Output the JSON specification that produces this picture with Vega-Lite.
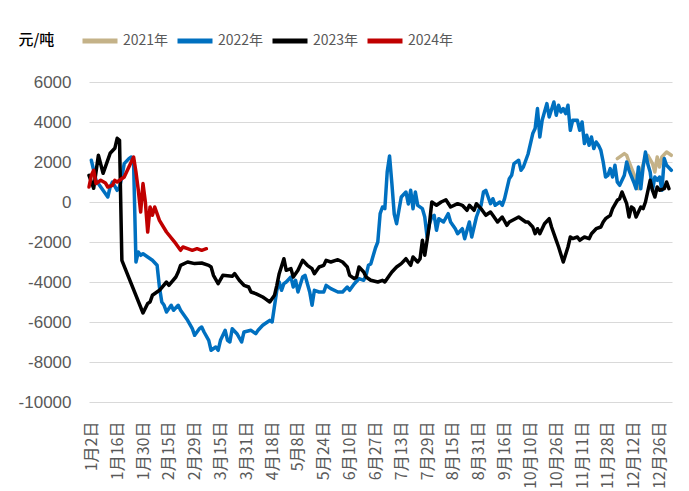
{
"$schema": "https://vega.github.io/schema/vega-lite/v6.json",
"width": 583, "height": 320,
"autosize": {"type": "none"},
"padding": {"left": 89, "top": 82, "right": 17, "bottom": 89},
"background": "white",
"config": {"view": {"stroke": null}},
"data": {"values": [
{"s":"2021年","d":225,"v":2170},{"s":"2021年","d":228,"v":2420},{"s":"2021年","d":229,"v":2335},{"s":"2021年","d":230,"v":2000},{"s":"2021年","d":232,"v":1420},{"s":"2021年","d":234,"v":665},{"s":"2021年","d":235,"v":1500},{"s":"2021年","d":237,"v":2250},{"s":"2021年","d":238,"v":2335},{"s":"2021年","d":240,"v":1920},{"s":"2021年","d":241,"v":1500},{"s":"2021年","d":242,"v":2250},{"s":"2021年","d":243,"v":1750},{"s":"2021年","d":244,"v":2250},{"s":"2021年","d":246,"v":2500},{"s":"2021年","d":248,"v":2335},
{"s":"2022年","d":1,"v":2085},{"s":"2022年","d":3,"v":1085},{"s":"2022年","d":5,"v":750},{"s":"2022年","d":8,"v":250},{"s":"2022年","d":9,"v":750},{"s":"2022年","d":10,"v":1000},{"s":"2022年","d":12,"v":585},{"s":"2022年","d":13,"v":750},{"s":"2022年","d":14,"v":1250},{"s":"2022年","d":15,"v":1920},{"s":"2022年","d":17,"v":2170},{"s":"2022年","d":18,"v":2250},{"s":"2022年","d":19,"v":1920},{"s":"2022年","d":20,"v":-3000},{"s":"2022年","d":21,"v":-2500},{"s":"2022年","d":22,"v":-2665},{"s":"2022年","d":23,"v":-2585},{"s":"2022年","d":25,"v":-2750},{"s":"2022年","d":27,"v":-2915},{"s":"2022年","d":29,"v":-3165},{"s":"2022年","d":30,"v":-4250},{"s":"2022年","d":31,"v":-5000},{"s":"2022年","d":32,"v":-5165},{"s":"2022年","d":33,"v":-5500},{"s":"2022年","d":35,"v":-5165},{"s":"2022年","d":36,"v":-5415},{"s":"2022年","d":38,"v":-5165},{"s":"2022年","d":39,"v":-5415},{"s":"2022年","d":42,"v":-5915},{"s":"2022年","d":44,"v":-6335},{"s":"2022年","d":45,"v":-6665},{"s":"2022年","d":47,"v":-6335},{"s":"2022年","d":48,"v":-6250},{"s":"2022年","d":49,"v":-6500},{"s":"2022年","d":51,"v":-6915},{"s":"2022年","d":52,"v":-7415},{"s":"2022年","d":54,"v":-7250},{"s":"2022年","d":55,"v":-7415},{"s":"2022年","d":56,"v":-6915},{"s":"2022年","d":58,"v":-6415},{"s":"2022年","d":59,"v":-6915},{"s":"2022年","d":60,"v":-7000},{"s":"2022年","d":61,"v":-6335},{"s":"2022年","d":63,"v":-6585},{"s":"2022年","d":65,"v":-7000},{"s":"2022年","d":66,"v":-6500},{"s":"2022年","d":69,"v":-6415},{"s":"2022年","d":71,"v":-6585},{"s":"2022年","d":72,"v":-6415},{"s":"2022年","d":74,"v":-6165},{"s":"2022年","d":76,"v":-6000},{"s":"2022年","d":77,"v":-5915},{"s":"2022年","d":78,"v":-6000},{"s":"2022年","d":80,"v":-4415},{"s":"2022年","d":81,"v":-4000},{"s":"2022年","d":82,"v":-4415},{"s":"2022年","d":83,"v":-4085},{"s":"2022年","d":84,"v":-4000},{"s":"2022年","d":86,"v":-3750},{"s":"2022年","d":87,"v":-4250},{"s":"2022年","d":88,"v":-3915},{"s":"2022年","d":89,"v":-4500},{"s":"2022年","d":91,"v":-3750},{"s":"2022年","d":92,"v":-3665},{"s":"2022年","d":94,"v":-4500},{"s":"2022年","d":95,"v":-5165},{"s":"2022年","d":96,"v":-4415},{"s":"2022年","d":98,"v":-4500},{"s":"2022年","d":100,"v":-4500},{"s":"2022年","d":101,"v":-4165},{"s":"2022年","d":103,"v":-4335},{"s":"2022年","d":106,"v":-4500},{"s":"2022年","d":108,"v":-4500},{"s":"2022年","d":110,"v":-4250},{"s":"2022年","d":111,"v":-4415},{"s":"2022年","d":113,"v":-4085},{"s":"2022年","d":115,"v":-3835},{"s":"2022年","d":117,"v":-3915},{"s":"2022年","d":118,"v":-3665},{"s":"2022年","d":119,"v":-3165},{"s":"2022年","d":120,"v":-3100},{"s":"2022年","d":122,"v":-2300},{"s":"2022年","d":123,"v":-2000},{"s":"2022年","d":124,"v":-585},{"s":"2022年","d":125,"v":-250},{"s":"2022年","d":126,"v":-335},{"s":"2022年","d":127,"v":1500},{"s":"2022年","d":128,"v":2300},{"s":"2022年","d":129,"v":920},{"s":"2022年","d":130,"v":-600},{"s":"2022年","d":131,"v":-1085},{"s":"2022年","d":132,"v":-415},{"s":"2022年","d":133,"v":250},{"s":"2022年","d":135,"v":500},{"s":"2022年","d":136,"v":-100},{"s":"2022年","d":137,"v":585},{"s":"2022年","d":138,"v":-335},{"s":"2022年","d":139,"v":500},{"s":"2022年","d":140,"v":-165},{"s":"2022年","d":142,"v":-335},{"s":"2022年","d":143,"v":-750},{"s":"2022年","d":144,"v":-1750},{"s":"2022年","d":145,"v":-1085},{"s":"2022年","d":146,"v":-750},{"s":"2022年","d":147,"v":-665},{"s":"2022年","d":148,"v":-1415},{"s":"2022年","d":149,"v":-835},{"s":"2022年","d":151,"v":-1000},{"s":"2022年","d":153,"v":-585},{"s":"2022年","d":154,"v":-1000},{"s":"2022年","d":156,"v":-1335},{"s":"2022年","d":157,"v":-1585},{"s":"2022年","d":159,"v":-1335},{"s":"2022年","d":160,"v":-1835},{"s":"2022年","d":161,"v":-1415},{"s":"2022年","d":162,"v":-1000},{"s":"2022年","d":163,"v":-1750},{"s":"2022年","d":165,"v":-750},{"s":"2022年","d":166,"v":-415},{"s":"2022年","d":167,"v":-165},{"s":"2022年","d":168,"v":500},{"s":"2022年","d":169,"v":585},{"s":"2022年","d":170,"v":250},{"s":"2022年","d":171,"v":-85},{"s":"2022年","d":172,"v":165},{"s":"2022年","d":173,"v":-165},{"s":"2022年","d":175,"v":0},{"s":"2022年","d":176,"v":-165},{"s":"2022年","d":177,"v":165},{"s":"2022年","d":179,"v":1165},{"s":"2022年","d":180,"v":1335},{"s":"2022年","d":181,"v":1920},{"s":"2022年","d":183,"v":2085},{"s":"2022年","d":184,"v":1585},{"s":"2022年","d":185,"v":1750},{"s":"2022年","d":187,"v":2400},{"s":"2022年","d":189,"v":3420},{"s":"2022年","d":190,"v":3670},{"s":"2022年","d":191,"v":4670},{"s":"2022年","d":192,"v":3250},{"s":"2022年","d":193,"v":4085},{"s":"2022年","d":195,"v":4920},{"s":"2022年","d":196,"v":4250},{"s":"2022年","d":198,"v":5000},{"s":"2022年","d":199,"v":4335},{"s":"2022年","d":200,"v":4835},{"s":"2022年","d":201,"v":4500},{"s":"2022年","d":202,"v":4670},{"s":"2022年","d":203,"v":4420},{"s":"2022年","d":204,"v":4835},{"s":"2022年","d":205,"v":3585},{"s":"2022年","d":206,"v":4085},{"s":"2022年","d":208,"v":4085},{"s":"2022年","d":209,"v":3585},{"s":"2022年","d":210,"v":4000},{"s":"2022年","d":211,"v":2920},{"s":"2022年","d":212,"v":3335},{"s":"2022年","d":213,"v":2835},{"s":"2022年","d":214,"v":3250},{"s":"2022年","d":215,"v":2670},{"s":"2022年","d":216,"v":3000},{"s":"2022年","d":217,"v":2835},{"s":"2022年","d":218,"v":2585},{"s":"2022年","d":219,"v":2000},{"s":"2022年","d":220,"v":1250},{"s":"2022年","d":221,"v":1335},{"s":"2022年","d":222,"v":1670},{"s":"2022年","d":223,"v":1250},{"s":"2022年","d":224,"v":1835},{"s":"2022年","d":225,"v":1000},{"s":"2022年","d":226,"v":835},{"s":"2022年","d":228,"v":1335},{"s":"2022年","d":229,"v":2000},{"s":"2022年","d":230,"v":1585},{"s":"2022年","d":232,"v":1000},{"s":"2022年","d":233,"v":665},{"s":"2022年","d":234,"v":1750},{"s":"2022年","d":235,"v":665},{"s":"2022年","d":236,"v":1750},{"s":"2022年","d":237,"v":2500},{"s":"2022年","d":238,"v":1900},{"s":"2022年","d":239,"v":1500},{"s":"2022年","d":240,"v":585},{"s":"2022年","d":241,"v":1250},{"s":"2022年","d":242,"v":1085},{"s":"2022年","d":243,"v":1250},{"s":"2022年","d":244,"v":585},{"s":"2022年","d":245,"v":2170},{"s":"2022年","d":246,"v":1835},{"s":"2022年","d":248,"v":1585},
{"s":"2023年","d":0,"v":1335},{"s":"2023年","d":2,"v":685},{"s":"2023年","d":4,"v":2335},{"s":"2023年","d":6,"v":1435},{"s":"2023年","d":9,"v":2435},{"s":"2023年","d":11,"v":2685},{"s":"2023年","d":12,"v":3185},{"s":"2023年","d":13,"v":3085},{"s":"2023年","d":14,"v":-2915},{"s":"2023年","d":23,"v":-5550},{"s":"2023年","d":25,"v":-5070},{"s":"2023年","d":26,"v":-5000},{"s":"2023年","d":27,"v":-4665},{"s":"2023年","d":30,"v":-4415},{"s":"2023年","d":33,"v":-4000},{"s":"2023年","d":34,"v":-4165},{"s":"2023年","d":37,"v":-3750},{"s":"2023年","d":38,"v":-3500},{"s":"2023年","d":39,"v":-3165},{"s":"2023年","d":42,"v":-3000},{"s":"2023年","d":45,"v":-3080},{"s":"2023年","d":48,"v":-3050},{"s":"2023年","d":51,"v":-3165},{"s":"2023年","d":52,"v":-3250},{"s":"2023年","d":53,"v":-3665},{"s":"2023年","d":55,"v":-4085},{"s":"2023年","d":57,"v":-3665},{"s":"2023年","d":61,"v":-3715},{"s":"2023年","d":62,"v":-3580},{"s":"2023年","d":64,"v":-3915},{"s":"2023年","d":66,"v":-4165},{"s":"2023年","d":68,"v":-4250},{"s":"2023年","d":69,"v":-4500},{"s":"2023年","d":71,"v":-4580},{"s":"2023年","d":74,"v":-4750},{"s":"2023年","d":75,"v":-4830},{"s":"2023年","d":77,"v":-5000},{"s":"2023年","d":79,"v":-4665},{"s":"2023年","d":80,"v":-4165},{"s":"2023年","d":81,"v":-3585},{"s":"2023年","d":83,"v":-2835},{"s":"2023年","d":84,"v":-3415},{"s":"2023年","d":86,"v":-3330},{"s":"2023年","d":87,"v":-3750},{"s":"2023年","d":89,"v":-3415},{"s":"2023年","d":91,"v":-2915},{"s":"2023年","d":93,"v":-3165},{"s":"2023年","d":95,"v":-3335},{"s":"2023年","d":96,"v":-3585},{"s":"2023年","d":98,"v":-3250},{"s":"2023年","d":100,"v":-3165},{"s":"2023年","d":101,"v":-2915},{"s":"2023年","d":103,"v":-3000},{"s":"2023年","d":106,"v":-2885},{"s":"2023年","d":108,"v":-3000},{"s":"2023年","d":110,"v":-3250},{"s":"2023年","d":111,"v":-3665},{"s":"2023年","d":113,"v":-3835},{"s":"2023年","d":114,"v":-3750},{"s":"2023年","d":115,"v":-3250},{"s":"2023年","d":117,"v":-3500},{"s":"2023年","d":118,"v":-3750},{"s":"2023年","d":120,"v":-3915},{"s":"2023年","d":123,"v":-4000},{"s":"2023年","d":125,"v":-3915},{"s":"2023年","d":126,"v":-4000},{"s":"2023年","d":128,"v":-3665},{"s":"2023年","d":129,"v":-3500},{"s":"2023年","d":131,"v":-3250},{"s":"2023年","d":133,"v":-3080},{"s":"2023年","d":135,"v":-2835},{"s":"2023年","d":137,"v":-3165},{"s":"2023年","d":138,"v":-2750},{"s":"2023年","d":140,"v":-3000},{"s":"2023年","d":141,"v":-2835},{"s":"2023年","d":142,"v":-1915},{"s":"2023年","d":143,"v":-2665},{"s":"2023年","d":144,"v":-1915},{"s":"2023年","d":145,"v":-1085},{"s":"2023年","d":146,"v":0},{"s":"2023年","d":148,"v":-165},{"s":"2023年","d":150,"v":0},{"s":"2023年","d":152,"v":115},{"s":"2023年","d":154,"v":-250},{"s":"2023年","d":157,"v":-85},{"s":"2023年","d":159,"v":-165},{"s":"2023年","d":161,"v":-415},{"s":"2023年","d":162,"v":-165},{"s":"2023年","d":164,"v":-415},{"s":"2023年","d":165,"v":-85},{"s":"2023年","d":167,"v":-335},{"s":"2023年","d":169,"v":-665},{"s":"2023年","d":171,"v":-500},{"s":"2023年","d":172,"v":-665},{"s":"2023年","d":174,"v":-1000},{"s":"2023年","d":176,"v":-750},{"s":"2023年","d":178,"v":-1165},{"s":"2023年","d":179,"v":-1000},{"s":"2023年","d":183,"v":-750},{"s":"2023年","d":186,"v":-1000},{"s":"2023年","d":187,"v":-1000},{"s":"2023年","d":189,"v":-1250},{"s":"2023年","d":190,"v":-1585},{"s":"2023年","d":191,"v":-1335},{"s":"2023年","d":192,"v":-1585},{"s":"2023年","d":194,"v":-1085},{"s":"2023年","d":196,"v":-835},{"s":"2023年","d":197,"v":-1250},{"s":"2023年","d":199,"v":-1915},{"s":"2023年","d":200,"v":-2250},{"s":"2023年","d":202,"v":-3000},{"s":"2023年","d":204,"v":-2250},{"s":"2023年","d":205,"v":-1750},{"s":"2023年","d":206,"v":-1830},{"s":"2023年","d":208,"v":-1750},{"s":"2023年","d":209,"v":-1915},{"s":"2023年","d":211,"v":-1750},{"s":"2023年","d":213,"v":-1835},{"s":"2023年","d":214,"v":-1585},{"s":"2023年","d":216,"v":-1335},{"s":"2023年","d":218,"v":-1250},{"s":"2023年","d":219,"v":-1000},{"s":"2023年","d":220,"v":-835},{"s":"2023年","d":222,"v":-665},{"s":"2023年","d":223,"v":-335},{"s":"2023年","d":225,"v":85},{"s":"2023年","d":226,"v":165},{"s":"2023年","d":227,"v":500},{"s":"2023年","d":229,"v":-85},{"s":"2023年","d":230,"v":-750},{"s":"2023年","d":231,"v":-250},{"s":"2023年","d":232,"v":-335},{"s":"2023年","d":233,"v":-750},{"s":"2023年","d":235,"v":-250},{"s":"2023年","d":236,"v":-335},{"s":"2023年","d":237,"v":0},{"s":"2023年","d":239,"v":1085},{"s":"2023年","d":240,"v":585},{"s":"2023年","d":241,"v":250},{"s":"2023年","d":242,"v":750},{"s":"2023年","d":243,"v":585},{"s":"2023年","d":245,"v":665},{"s":"2023年","d":246,"v":1000},{"s":"2023年","d":247,"v":665},
{"s":"2024年","d":0,"v":750},{"s":"2024年","d":1,"v":1335},{"s":"2024年","d":2,"v":1585},{"s":"2024年","d":3,"v":920},{"s":"2024年","d":5,"v":1085},{"s":"2024年","d":7,"v":950},{"s":"2024年","d":8,"v":750},{"s":"2024年","d":10,"v":835},{"s":"2024年","d":11,"v":1085},{"s":"2024年","d":12,"v":1000},{"s":"2024年","d":15,"v":1250},{"s":"2024年","d":16,"v":1500},{"s":"2024年","d":17,"v":1750},{"s":"2024年","d":19,"v":2250},{"s":"2024年","d":20,"v":1500},{"s":"2024年","d":21,"v":585},{"s":"2024年","d":22,"v":-500},{"s":"2024年","d":23,"v":920},{"s":"2024年","d":24,"v":0},{"s":"2024年","d":25,"v":-1500},{"s":"2024年","d":26,"v":-250},{"s":"2024年","d":27,"v":-665},{"s":"2024年","d":28,"v":-250},{"s":"2024年","d":30,"v":-915},{"s":"2024年","d":33,"v":-1500},{"s":"2024年","d":37,"v":-2085},{"s":"2024年","d":39,"v":-2415},{"s":"2024年","d":40,"v":-2250},{"s":"2024年","d":42,"v":-2335},{"s":"2024年","d":44,"v":-2415},{"s":"2024年","d":46,"v":-2335},{"s":"2024年","d":48,"v":-2415},{"s":"2024年","d":50,"v":-2335}
]},
"mark": {"type": "line", "strokeWidth": 3.5, "strokeJoin": "round", "strokeCap": "round"},
"encoding": {
"x": {"field": "d", "type": "quantitative", "scale": {"domain": [0, 248.3], "nice": false, "zero": false},
 "axis": {"values": [1,12,23,34,45,56,67,78,89,100,111,122,133,144,155,166,177,188,199,210,221,232,243],
  "labelExpr": "['1月2日','1月16日','1月30日','2月15日','2月29日','3月15日','3月31日','4月18日','5月8日','5月24日','6月10日','6月27日','7月13日','7月29日','8月15日','8月31日','9月16日','10月10日','10月26日','11月11日','11月28日','12月12日','12月26日'][round((datum.value-1)/11)]",
  "labelAngle": -90, "grid": false, "ticks": false, "domain": false, "labelPadding": 19, "labelFont": "Noto Sans CJK SC", "labelFontSize": 16, "labelColor": "#595959", "title": null, "labelOverlap": false, "labelFlush": false, "labelBound": false}},
"y": {"field": "v", "type": "quantitative", "scale": {"domain": [-10000, 6000], "nice": false},
 "axis": {"values": [-10000,-8000,-6000,-4000,-2000,0,2000,4000,6000], "labelExpr": "'' + datum.value", "grid": true, "gridColor": "#D9D9D9", "gridWidth": 1, "domain": false, "ticks": false, "labelPadding": 18, "labelFont": "Liberation Sans", "labelFontSize": 17, "labelColor": "#595959",
  "title": "元/吨", "titleAngle": 0, "titleAlign": "left", "titleBaseline": "middle", "titleX": -71, "titleY": -43, "titleFont": "Noto Sans CJK SC", "titleFontSize": 15, "titleFontWeight": 500, "titleColor": "#000000"}},
"color": {"field": "s", "type": "nominal",
 "scale": {"domain": ["2021年","2022年","2023年","2024年"], "range": ["#C4B288","#0070C0","#000000","#C00000"]},
 "legend": {"orient": "none", "legendX": -9, "legendY": -61, "direction": "horizontal", "title": null, "symbolType": "stroke", "symbolSize": 1225, "symbolStrokeWidth": 5, "labelFont": "Noto Sans CJK SC", "labelFontSize": 14, "labelColor": "#595959", "labelOffset": 3, "columnPadding": -2,
  "encode": {"symbols": {"update": {"strokeWidth": {"value": 5}}}}}}
}
}
